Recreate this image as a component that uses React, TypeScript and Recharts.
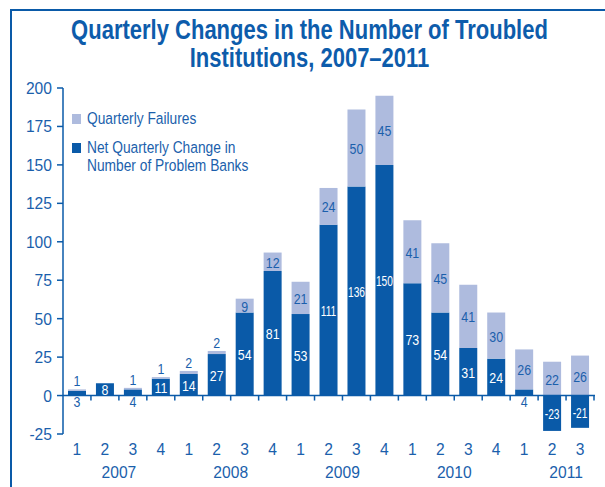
import { Bar, BarChart, LabelList, ReferenceLine, XAxis, YAxis } from "recharts";

const quarters = ["1", "2", "3", "4", "1", "2", "3", "4", "1", "2", "3", "4", "1", "2", "3", "4", "1", "2", "3"];
const years = [
  "2007", "2007", "2007", "2007",
  "2008", "2008", "2008", "2008",
  "2009", "2009", "2009", "2009",
  "2010", "2010", "2010", "2010",
  "2011", "2011", "2011"
];
const netChange = [3, 8, 4, 11, 14, 27, 54, 81, 53, 111, 136, 150, 73, 54, 31, 24, 4, -23, -21];
const failures = [1, 0, 1, 1, 2, 2, 9, 12, 21, 24, 50, 45, 41, 45, 41, 30, 26, 22, 26];
const yTicks = [-25, 0, 25, 50, 75, 100, 125, 150, 175, 200];

const data = quarters.map((q, i) => ({
  id: `${years[i]}-${q}`,
  quarter: q,
  year: years[i],
  net: netChange[i],
  failures: failures[i]
}));

const DARK = "#0a5aa8";
const LIGHT = "#aebbde";
const TEXT = "#1b5fac";
const FONT = "'Liberation Sans', Arial, sans-serif";

// narrow text: Liberation Sans squeezed horizontally
function NarrowText({ x, y, children, fill = TEXT, size = 17, sx = 0.92, anchor = "middle" }: any) {
  return (
    <text
      transform={`translate(${x} ${y}) scale(${sx} 1)`}
      x={0}
      y={0}
      textAnchor={anchor}
      fill={fill}
      fontSize={size}
      fontFamily={FONT}
    >
      {children}
    </text>
  );
}

function QuarterTick(props: any) {
  const { x, y, payload } = props;
  const [year, q] = String(payload.value).split("-");
  const half = payload.offset ?? 14;
  return (
    <g>
      <NarrowText x={x} y={y + 13}>{q}</NarrowText>
      {q === "2" ? <NarrowText x={x + half} y={y + 36}>{year}</NarrowText> : null}
    </g>
  );
}

function ValueTick(props: any) {
  const { x, y, payload } = props;
  return (
    <NarrowText x={x} y={y + 6} anchor="end">
      {payload.value}
    </NarrowText>
  );
}

function ZeroLine(props: any) {
  const { x1, y1, x2 } = props;
  const n = data.length;
  const step = (x2 - x1) / n;
  const marks = [];
  for (let i = 1; i <= n; i++) {
    const tx = x1 + i * step;
    marks.push(<line key={i} x1={tx} x2={tx} y1={y1} y2={y1 + 5} stroke={DARK} strokeWidth={1.5} />);
  }
  return (
    <g>
      <line x1={x1} x2={x2 + 1} y1={y1} y2={y1} stroke={DARK} strokeWidth={1.5} />
      {marks}
    </g>
  );
}

function labelScale(value: number) {
  const s = String(value);
  const natural = s.length * 0.556 * 15.5;
  return Math.min(0.8, 17 / natural);
}

function NetLabel(props: any) {
  const { x, y, width, height, value } = props;
  const cx = x + width / 2;
  if (value > 0 && value < 5) {
    return (
      <NarrowText x={cx} y={y + height + 11} size={15.5} sx={0.8}>
        {value}
      </NarrowText>
    );
  }
  return (
    <NarrowText x={cx} y={y + height / 2 + 6} size={15.5} sx={labelScale(value)} fill="#ffffff">
      {value}
    </NarrowText>
  );
}

function FailureLabel(props: any) {
  const { x, y, width, height, value } = props;
  const cx = x + width / 2;
  const top = Math.min(y, y + height);
  if (value < 5) {
    return (
      <NarrowText x={cx} y={top - 3} size={15.5} sx={0.8}>
        {value}
      </NarrowText>
    );
  }
  return (
    <NarrowText x={cx} y={y + height / 2 + 6} size={15.5} sx={labelScale(value)}>
      {value}
    </NarrowText>
  );
}

function LegendBox() {
  const textStyle = {
    display: "inline-block",
    transform: "scaleX(0.82)",
    transformOrigin: "0 0",
    whiteSpace: "nowrap"
  } as const;
  return (
    <div
      style={{
        position: "absolute",
        left: 72,
        top: 110,
        fontFamily: FONT,
        fontSize: 16.8,
        lineHeight: "18px",
        color: TEXT
      }}
    >
      <div style={{ position: "relative", height: 18 }}>
        <span style={{ position: "absolute", left: 0, top: 4, width: 9, height: 10, background: LIGHT }} />
        <span style={{ ...textStyle, position: "absolute", left: 15, top: 0 }}>Quarterly Failures</span>
      </div>
      <div style={{ position: "relative", height: 36, marginTop: 11 }}>
        <span style={{ position: "absolute", left: 0, top: 4, width: 9, height: 10, background: DARK }} />
        <span style={{ ...textStyle, position: "absolute", left: 15, top: 0 }}>
          Net Quarterly Change in
          <br />
          Number of Problem Banks
        </span>
      </div>
    </div>
  );
}

export default function App() {
  return (
    <div style={{ position: "absolute", left: 0, top: 0, width: 605, height: 487, background: "#fff", overflow: "hidden" }}>
      <div
        style={{
          position: "absolute",
          left: 10,
          top: 9,
          width: 600,
          height: 490,
          borderLeft: `2px solid ${DARK}`,
          borderTop: `2px solid ${DARK}`
        }}
      />
      <div
        style={{
          position: "absolute",
          left: 0,
          top: 16,
          width: 619,
          textAlign: "center",
          color: "#0d5cab",
          fontFamily: FONT,
          fontWeight: 700,
          fontSize: 27.5,
          lineHeight: "27.5px",
          transform: "scaleX(0.8)",
          transformOrigin: "309.5px 0"
        }}
      >
        Quarterly Changes in the Number of Troubled
        <br />
        Institutions, 2007–2011
      </div>
      <div style={{ position: "absolute", left: 0, top: 0 }}>
        <BarChart
          width={605}
          height={487}
          data={data}
          stackOffset="sign"
          margin={{ top: 88, right: 11, bottom: 0, left: 0 }}
        >
          <XAxis
            dataKey="id"
            axisLine={false}
            tickLine={false}
            height={53}
            interval={0}
            tick={<QuarterTick />}
          />
          <YAxis
            type="number"
            domain={[-25, 200]}
            ticks={yTicks}
            interval={0}
            width={63}
            axisLine={{ stroke: DARK, strokeWidth: 1.5 }}
            tickLine={{ stroke: DARK, strokeWidth: 1.5 }}
            tickSize={6}
            tickMargin={5}
            tick={<ValueTick />}
          />
          <Bar dataKey="net" stackId="a" fill={DARK} barSize={18} isAnimationActive={false}>
            <LabelList dataKey="net" content={<NetLabel />} />
          </Bar>
          <Bar dataKey="failures" stackId="a" fill={LIGHT} barSize={18} isAnimationActive={false}>
            <LabelList dataKey="failures" content={<FailureLabel />} />
          </Bar>
          <ReferenceLine y={0} shape={<ZeroLine />} />
        </BarChart>
      </div>
      <LegendBox />
    </div>
  );
}
